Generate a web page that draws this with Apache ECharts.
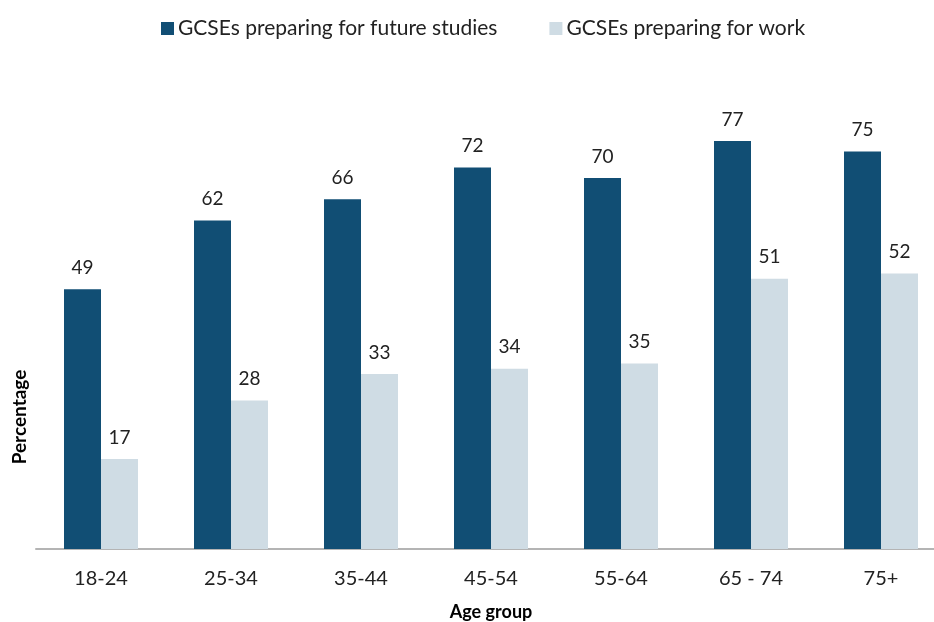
<!DOCTYPE html>
<html>
<head>
<meta charset="utf-8">
<script src="https://cdn.jsdelivr.net/npm/echarts@6/dist/echarts.min.js"></script>
<style>
  html, body { margin: 0; padding: 0; background: #fff; }
  #chart { width: 934px; height: 622px; }
</style>
</head>
<body>
<div id="chart"></div>
<script>
const ageGroups = ["18-24", "25-34", "35-44", "45-54", "55-64", "65 - 74", "75+"];
const futureStudies = [49, 62, 66, 72, 70, 77, 75];
const forWork = [17, 28, 33, 34, 35, 51, 52];

const font = "Lato";
const myChart = echarts.init(document.getElementById("chart"));

myChart.setOption({
  animation: false,
  textStyle: { fontFamily: font },
  legend: {
    top: 13,
    left: 156,
    itemWidth: 13,
    itemHeight: 13,
    itemGap: 52,
    icon: "rect",
    textStyle: { fontSize: 21, color: "#222", padding: [0, 0, 0, -1] },
    data: ["GCSEs preparing for future studies", "GCSEs preparing for work"],
  },
  grid: {
    left: 36,
    width: 910,
    top: 19,
    bottom: 73,
    outerBoundsMode: "none",
  },
  graphic: [
    {
      type: "text",
      x: 20,
      y: 417,
      rotation: Math.PI / 2,
      style: {
        text: "Percentage",
        font: "bold 19px " + font,
        fill: "#000",
        align: "center",
        verticalAlign: "middle",
      },
    },
  ],
  xAxis: {
    type: "category",
    data: ageGroups,
    name: "Age group",
    nameLocation: "middle",
    nameGap: 54,
    nameTextStyle: { fontSize: 18, fontWeight: "bold", color: "#000" },
    axisTick: { show: false },
    axisLine: { lineStyle: { color: "#b4b4b4", width: 2 } },
    axisLabel: { fontSize: 20, color: "#222", margin: 20 },
  },
  yAxis: {
    type: "value",
    min: 0,
    max: 100,
    show: false,
  },
  series: [
    {
      name: "GCSEs preparing for future studies",
      type: "bar",
      barWidth: 37,
      barGap: "0%",
      itemStyle: { color: "#114e74" },
      label: {
        show: true,
        position: "top",
        distance: 12,
        fontSize: 19,
        color: "#222",
      },
      data: futureStudies,
    },
    {
      name: "GCSEs preparing for work",
      type: "bar",
      barWidth: 37,
      barGap: "0%",
      itemStyle: { color: "#cfdce4" },
      label: {
        show: true,
        position: "top",
        distance: 12,
        fontSize: 19,
        color: "#222",
      },
      data: forWork,
    },
  ],
});
</script>
</body>
</html>
